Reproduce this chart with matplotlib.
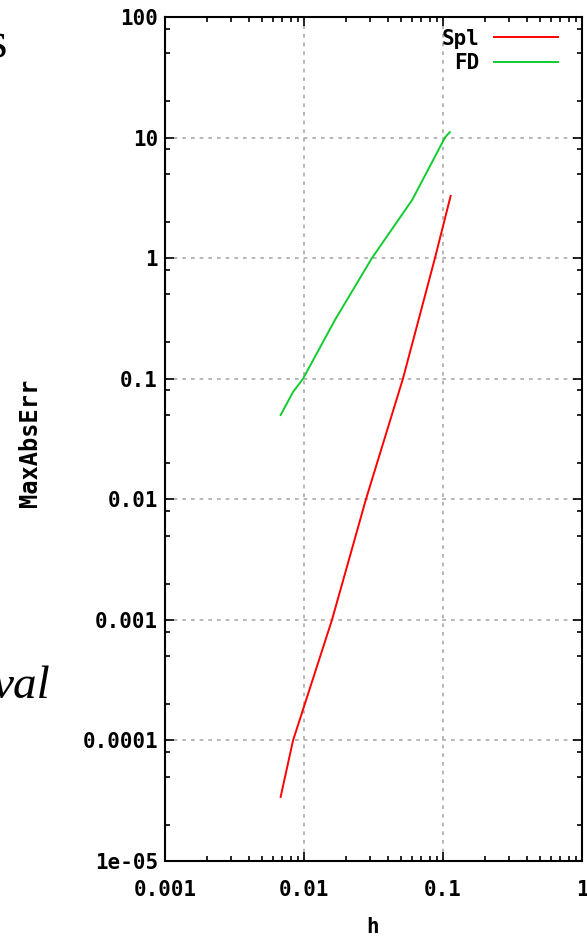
import matplotlib
matplotlib.use("Agg")
import matplotlib.pyplot as plt
from matplotlib.ticker import FixedLocator, LogLocator, NullFormatter

# values
h_spl = [0.00679, 0.00834, 0.0159, 0.0279, 0.0515, 0.0875, 0.1135]
err_spl = [3.4e-5, 1e-4, 1e-3, 1e-2, 1e-1, 1.0, 3.28]

h_fd = [0.00679, 0.00834, 0.00984, 0.0167, 0.0308, 0.0600, 0.1033, 0.112]
err_fd = [0.05, 0.0776, 0.1, 0.307, 1.0, 3.04, 10.0, 11.1]

yticks = [1e-5, 1e-4, 1e-3, 1e-2, 1e-1, 1, 10, 100]
ytick_labels = ["1e-05", "0.0001", "0.001", "0.01", "0.1", "1", "10", "100"]
xticks = [1e-3, 1e-2, 1e-1, 1]
xtick_labels = ["0.001", "0.01", "0.1", "1"]

mono = "DejaVu Sans Mono"
fs = 15

fig = plt.figure(figsize=(5.87, 9.36), dpi=100)
ax = fig.add_axes([165 / 587, 1 - 861 / 936, (582 - 165) / 587, (861 - 17) / 936])

ax.plot(h_spl, err_spl, color="#ff0000", lw=1.4, label="Spl")
ax.plot(h_fd, err_fd, color="#10cc30", lw=1.4, label="FD")

ax.set_xscale("log")
ax.set_yscale("log")
ax.set_xlim(1e-3, 1)
ax.set_ylim(1e-5, 100)

ax.xaxis.set_major_locator(FixedLocator(xticks))
ax.set_xticklabels(xtick_labels)
ax.xaxis.set_minor_locator(LogLocator(base=10, subs=range(2, 10)))
ax.xaxis.set_minor_formatter(NullFormatter())
ax.yaxis.set_major_locator(FixedLocator(yticks))
ax.set_yticklabels(ytick_labels)
ax.yaxis.set_minor_locator(LogLocator(base=10, subs=[2, 5, 8]))
ax.yaxis.set_minor_formatter(NullFormatter())

ax.tick_params(which="both", direction="in", top=True, right=True, width=1.2)
ax.tick_params(which="major", length=6.5)
ax.tick_params(which="minor", length=3.6)
ax.tick_params(axis="x", which="major", pad=14)
ax.tick_params(axis="y", which="major", pad=5)
for lab in ax.get_xticklabels() + ax.get_yticklabels():
    lab.set_family(mono)
    lab.set_fontweight("bold")
    lab.set_fontsize(fs)

for s in ax.spines.values():
    s.set_linewidth(1.5)

ax.grid(True, which="major", color="#aaaaaa", linestyle=(0, (2.2, 3)), lw=1.2)

leg = ax.legend(loc="upper right", bbox_to_anchor=(0.953, 0.991), frameon=False,
                markerfirst=False, handlelength=3.1, handletextpad=0.7,
                labelspacing=0.2, borderaxespad=0, borderpad=0.2,
                prop={"family": mono, "weight": "bold", "size": fs})
for t in leg.get_texts():
    t.set_ha("right")

fig.text(30 / 587, 1 - 443 / 936, "MaxAbsErr", rotation=90, ha="center", va="center",
         family=mono, fontweight="bold", fontsize=17)
fig.text(373 / 587, 1 - 927 / 936, "h", ha="center", va="center",
         family=mono, fontweight="bold", fontsize=fs)

# bits of slide text cut off at the left edge
fig.text(-0.02, 1 - 45 / 936, "s", ha="left", va="center",
         family="Liberation Serif", fontsize=36)
fig.text(50 / 587, 1 - 698 / 936, "val", ha="right", va="baseline",
         family="Liberation Serif", style="italic", fontsize=34)

fig.savefig("out.png", dpi=100)
